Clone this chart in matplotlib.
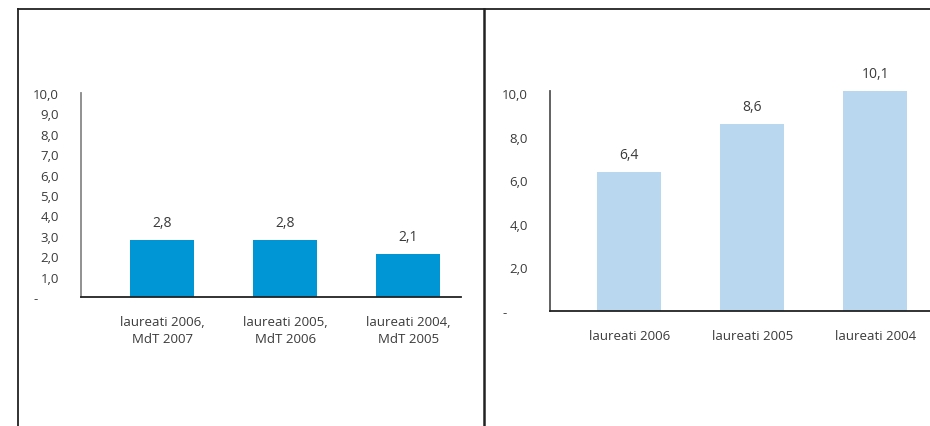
import matplotlib
matplotlib.use("Agg")
import matplotlib.pyplot as plt
from matplotlib.lines import Line2D

plt.rcParams['font.family'] = ['Open Sans', 'DejaVu Sans']
plt.rcParams['font.size'] = 9.5
plt.rcParams['text.color'] = '#3a3a3a'

# dati
cat_left = ["laureati 2006,\nMdT 2007", "laureati 2005,\nMdT 2006", "laureati 2004,\nMdT 2005"]
val_left = [2.8, 2.8, 2.1]
cat_right = ["laureati 2006", "laureati 2005", "laureati 2004"]
val_right = [6.4, 8.6, 10.1]

ticks_left = [0, 1, 2, 3, 4, 5, 6, 7, 8, 9, 10]
ticks_right = [0, 2, 4, 6, 8, 10]

W, H = 930, 427
fig = plt.figure(figsize=(W / 100, H / 100), dpi=100)


def virgola(v):
    return "-      " if v == 0 else f"{v:.1f}".replace('.', ',')


def pannello(rect, cats, vals, ticks, ymax, colore, spine_col, xlim):
    x0, y0, x1, y1 = rect
    ax = fig.add_axes([x0 / W, 1 - y1 / H, (x1 - x0) / W, (y1 - y0) / H])
    pos = list(range(len(cats)))
    bars = ax.bar(pos, vals, width=0.52, color=colore)
    ax.bar_label(bars, labels=[virgola(v) for v in vals], padding=7,
                 color='#3a3a3a', fontsize=10)
    ax.set_xlim(*xlim)
    ax.set_ylim(0, ymax)
    ax.set_xticks(pos)
    ax.set_xticklabels(cats, color='#3a3a3a', linespacing=1.4)
    ax.set_yticks(ticks)
    ax.set_yticklabels([virgola(t) for t in ticks], color='#3a3a3a')
    ax.tick_params(axis='both', length=0)
    ax.tick_params(axis='y', pad=16)
    ax.tick_params(axis='x', pad=13)
    for s in ['top', 'right']:
        ax.spines[s].set_visible(False)
    ax.spines['left'].set_color(spine_col)
    ax.spines['left'].set_linewidth(1.3)
    ax.spines['bottom'].set_color('#222222')
    ax.spines['bottom'].set_linewidth(1.3)
    return ax


pannello((81, 94, 461, 298), cat_left, val_left, ticks_left, 10.0,
         '#0096d6', '#888888', (-0.66, 2.43))
pannello((550, 92, 930, 312), cat_right, val_right, ticks_right, 10.1,
         '#b9d7ef', '#555555', (-0.645, 2.445))

# cornice
def linea(xs, ys, lw=1.3, col='#222222'):
    fig.add_artist(Line2D([x / W for x in xs], [1 - y / H for y in ys],
                          color=col, lw=lw))

linea([18, 930], [9.5, 9.5])
linea([18, 18], [9.5, 427])
linea([483.5, 483.5], [9.5, 427], lw=1.8)

fig.savefig("out.png", dpi=100)
